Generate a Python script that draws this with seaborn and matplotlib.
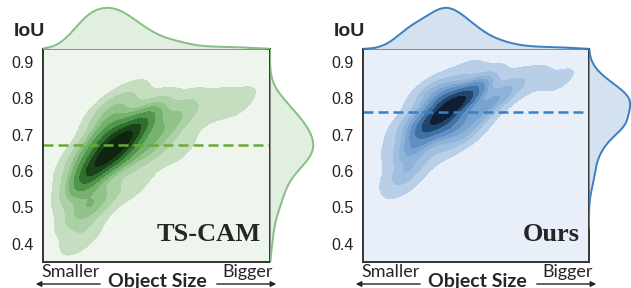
import numpy as np
import matplotlib
matplotlib.use("Agg")
import matplotlib.pyplot as plt
from matplotlib.colors import LinearSegmentedColormap
from matplotlib.patches import FancyArrowPatch
import seaborn as sns

# anchor samples (object size 0..1, IoU, weight)
tscam_size = [0.24, 0.30, 0.36, 0.42, 0.30, 0.35,
              0.18, 0.20, 0.20, 0.28, 0.48, 0.47, 0.55, 0.25,
              0.17, 0.17, 0.14, 0.38, 0.62, 0.60, 0.75, 0.87, 0.40]
tscam_iou = [0.62, 0.66, 0.69, 0.72, 0.71, 0.64,
             0.56, 0.60, 0.66, 0.76, 0.76, 0.66, 0.72, 0.52,
             0.49, 0.42, 0.62, 0.80, 0.77, 0.66, 0.78, 0.79, 0.56]
tscam_w = [6, 6, 6, 6, 6, 6,
           5, 4, 3, 3, 3, 3, 3, 3,
           3, 1.8, 1, 1.5, 2, 1.2, 1.5, 1.2, 1.2]
tscam_mean = 0.67

ours_size = [0.28, 0.34, 0.40, 0.46, 0.36, 0.38,
             0.22, 0.22, 0.30, 0.52, 0.52, 0.60, 0.45,
             0.19, 0.18, 0.16, 0.45, 0.65, 0.75, 0.87, 0.33]
ours_iou = [0.72, 0.75, 0.78, 0.80, 0.80, 0.72,
            0.66, 0.74, 0.82, 0.84, 0.76, 0.80, 0.70,
            0.60, 0.56, 0.68, 0.87, 0.84, 0.85, 0.85, 0.65]
ours_w = [6, 6, 6, 6, 6, 6,
          4.5, 3, 3, 3, 3, 3, 3,
          3, 1.2, 1, 1.2, 1.5, 1.3, 1.1, 1.2]
ours_mean = 0.763

yticks = [0.4, 0.5, 0.6, 0.7, 0.8, 0.9]

sns.set_style("white")
plt.rcParams['font.family'] = ['Liberation Sans', 'DejaVu Sans']

W, H = 631, 288
fig = plt.figure(figsize=(W / 100, H / 100), dpi=100)


def px(x0, y0, x1, y1):
    return [x0 / W, 1 - y1 / H, (x1 - x0) / W, (y1 - y0) / H]


panels = [
    dict(x=tscam_size, y=tscam_iou, w=tscam_w, mean=tscam_mean, name="TS-CAM", off=0,
         line="#86bf84", fill="#e2eee0", dash="#6aaa3c", bg="#eef5ec",
         cmap=["#cfe4ca", "#86bd80", "#428c3f", "#1a461a", "#0b140b"], rmax=0.9),
    dict(x=ours_size, y=ours_iou, w=ours_w, mean=ours_mean, name="Ours", off=320,
         line="#3d7ebf", fill="#d4e2ef", dash="#3a7ec4", bg="#e9eff8",
         cmap=["#c4d7eb", "#86afd6", "#4a7fb5", "#1c3d63", "#070d16"], rmax=0.98),
]
bw = 0.45

for p in panels:
    o = p["off"]
    xl = 43 + o
    xr = 270 if o == 0 else 589
    ax = fig.add_axes(px(xl, 49, xr, 262))
    axt = fig.add_axes(px(xl, 0, xr, 49), sharex=ax)
    axr = fig.add_axes(px(xr, 49, xr + 48 if o == 0 else 631, 262), sharey=ax)

    cmap = LinearSegmentedColormap.from_list("c", p["cmap"])
    ax.set_facecolor(p["bg"])
    sns.kdeplot(x=p["x"], y=p["y"], weights=p["w"], fill=True, cmap=cmap, levels=9,
                thresh=0.04, bw_method=bw, ax=ax)
    ax.axhline(p["mean"], color=p["dash"], lw=1.8, ls=(0, (4, 2)))
    ax.set_xlim(0, 1)
    ax.set_ylim(0.35, 0.935)
    ax.set_yticks(yticks)
    ax.set_yticklabels([f"{t:.1f}" for t in yticks])
    ax.set_xticks([])
    ax.tick_params(axis="y", length=0, pad=7, labelsize=11.5, labelcolor="#222222")
    ax.set_xlabel("")
    ax.set_ylabel("")
    for s in ax.spines.values():
        s.set_visible(True)
        s.set_color("#333333")
        s.set_linewidth(1.4)
    ax.text(0.96, 0.13, p["name"], transform=ax.transAxes, ha="right", va="center",
            fontsize=19, fontweight="bold", family="Liberation Serif")

    # top marginal
    sns.kdeplot(x=p["x"], weights=p["w"], fill=True, color=p["fill"], alpha=1,
                linewidth=0, bw_method=bw, ax=axt)
    sns.kdeplot(x=p["x"], weights=p["w"], color=p["line"], linewidth=1.4,
                bw_method=bw, ax=axt)
    mx = max(axt.lines[0].get_ydata())
    axt.set_ylim(0, mx / 0.84)
    axt.set_axis_off()

    # right marginal
    sns.kdeplot(y=p["y"], weights=p["w"], fill=True, color=p["fill"], alpha=1,
                linewidth=0, bw_method=bw, ax=axr)
    sns.kdeplot(y=p["y"], weights=p["w"], color=p["line"], linewidth=1.4,
                bw_method=bw, ax=axr)
    mr = max(axr.lines[0].get_xdata())
    axr.set_xlim(0, mr / p["rmax"])
    axr.set_axis_off()

    fig.text((14 + o) / W, 1 - 32 / H, "IoU", fontsize=14, fontweight="bold",
             va="center", ha="left")
    fig.text((41 + o) / W, 1 - 272 / H, "Smaller", fontsize=13, family="Lato",
             va="center", ha="left")
    fig.text((157 + o) / W, 1 - 281 / H, "Object Size", fontsize=14, family="Lato",
             fontweight="bold", va="center", ha="center")
    fig.text((273 + o) / W, 1 - 272 / H, "Bigger", fontsize=13, family="Lato",
             va="center", ha="right")
    fig.patches.append(FancyArrowPatch(
        ((103 + o) / W, 1 - 284 / H), ((33 + o) / W, 1 - 284 / H), transform=fig.transFigure,
        arrowstyle="-|>", mutation_scale=8, lw=1, color="#222222"))
    fig.patches.append(FancyArrowPatch(
        ((214 + o) / W, 1 - 284 / H), ((279 + o) / W, 1 - 284 / H), transform=fig.transFigure,
        arrowstyle="-|>", mutation_scale=8, lw=1, color="#222222"))

fig.savefig("out.png", dpi=100)
